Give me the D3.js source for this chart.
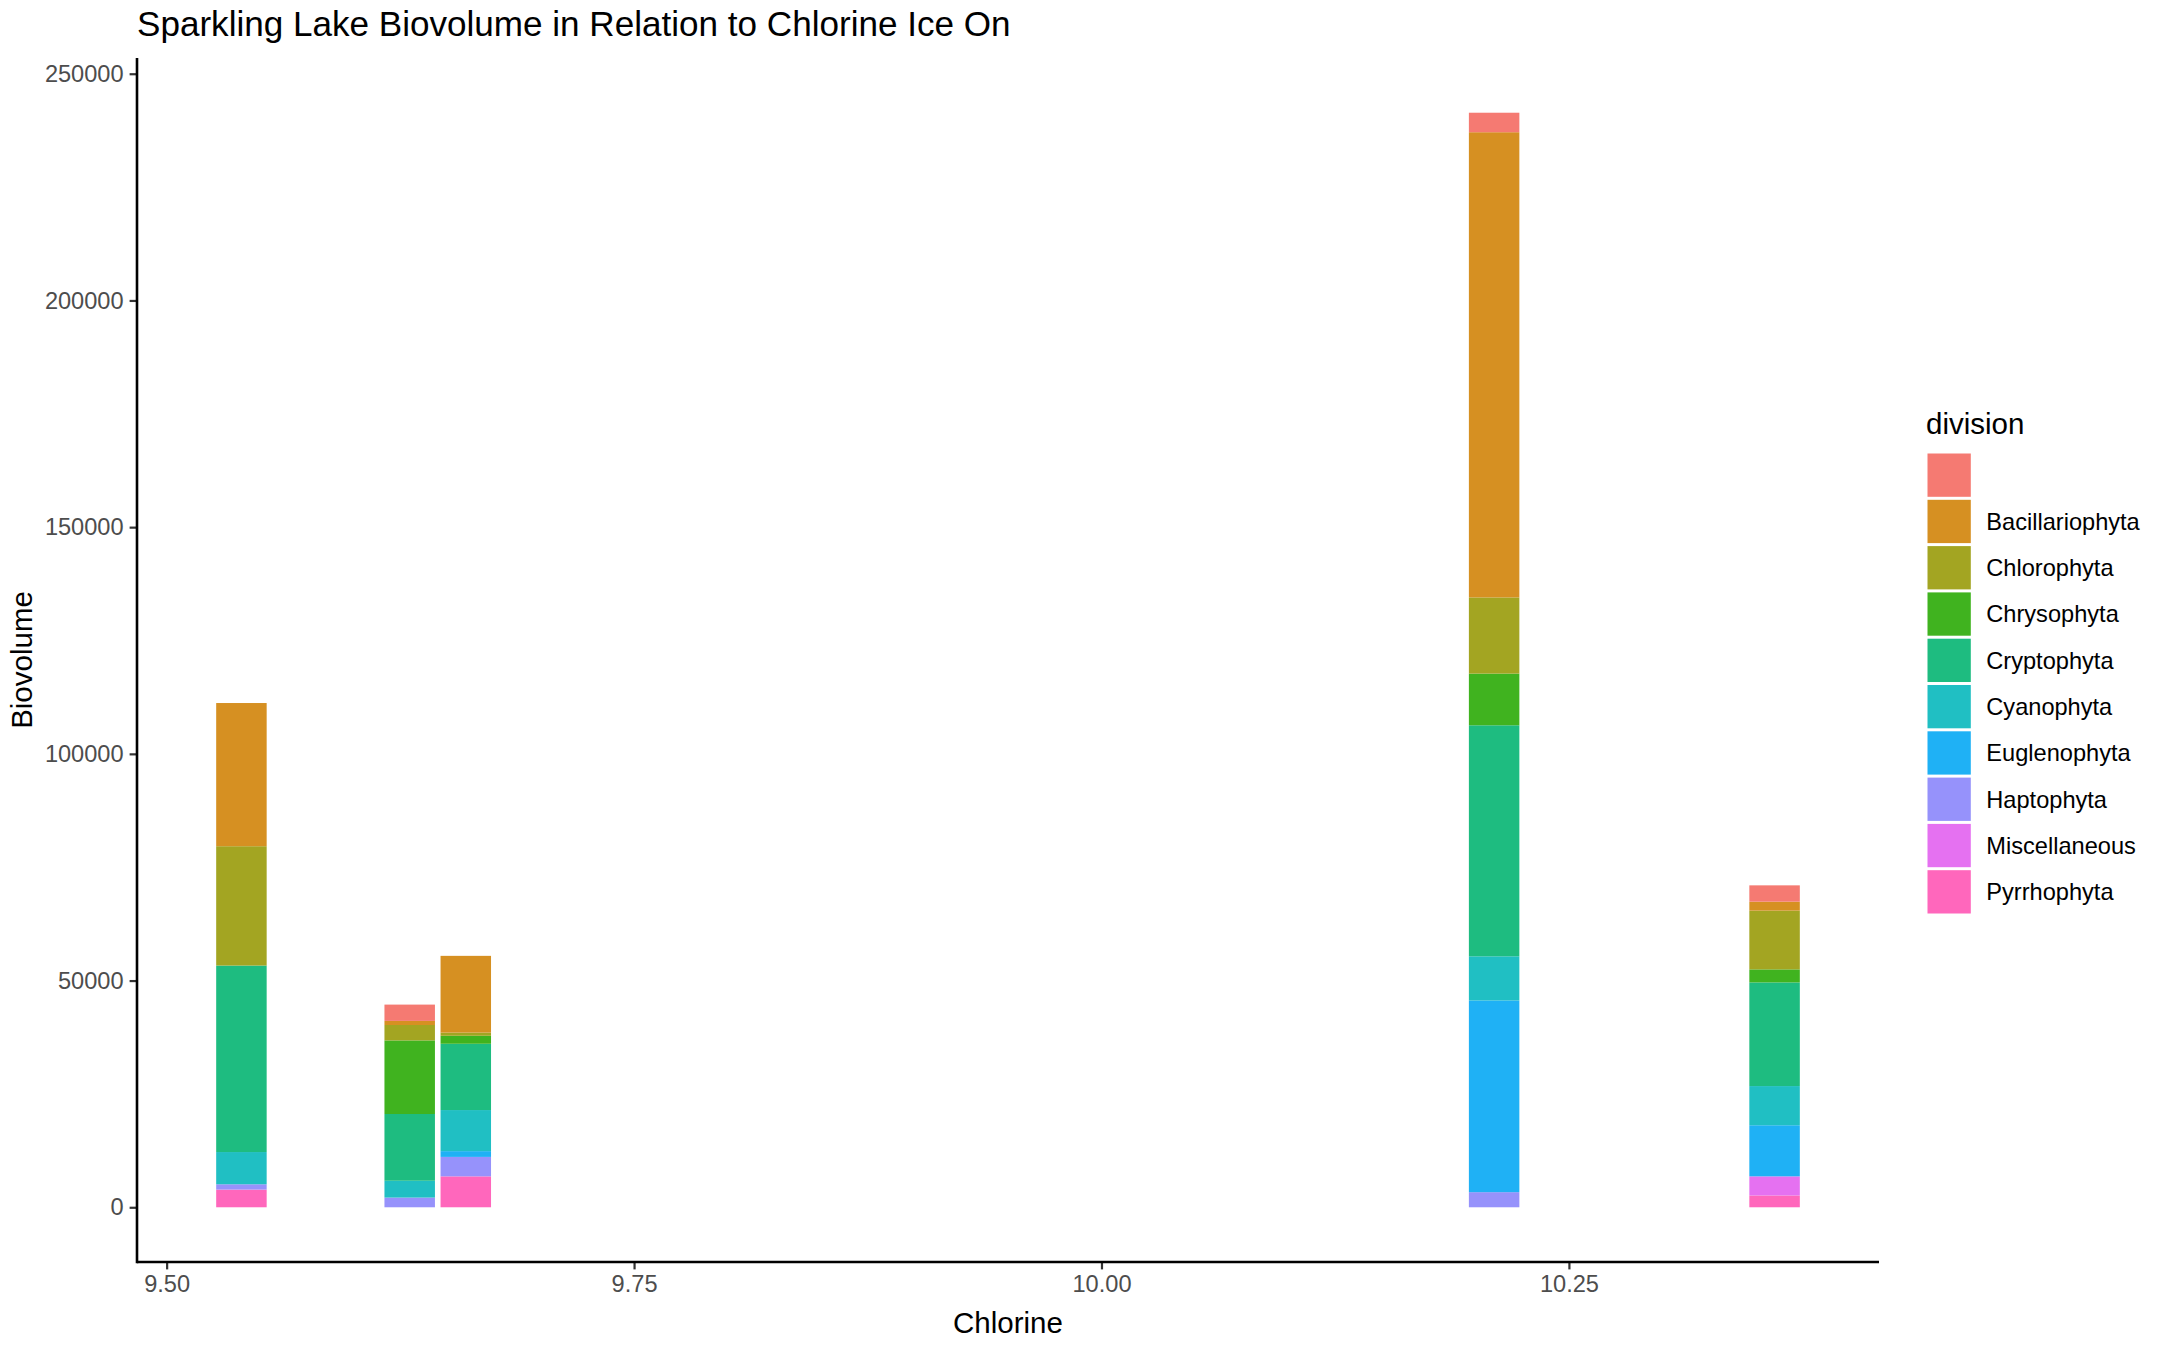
<!DOCTYPE html>
<html>
<head>
<meta charset="utf-8">
<script src="https://cdn.jsdelivr.net/npm/d3@7"></script>
<style>
  body { margin: 0; background: #fff; }
  text { font-family: "Liberation Sans", Arial, Helvetica, sans-serif; }
</style>
</head>
<body>
<div id="chart"></div>
<script>
// chlorine levels (x) and the divisions in legend order
var chlorine = [9.54, 9.63, 9.66, 10.21, 10.36];
var divisions = ["", "Bacillariophyta", "Chlorophyta", "Chrysophyta", "Cryptophyta",
                 "Cyanophyta", "Euglenophyta", "Haptophyta", "Miscellaneous", "Pyrrhophyta"];
var colors = ["#F57A72", "#D69022", "#A3A522", "#40B31F", "#1EBC80",
              "#20BFC3", "#1FB1F5", "#9692FB", "#E571F1", "#FF67BC"];

// biovolume per division, one value per chlorine level
var blank           = [0,     3600,  0,     4300,   3600];
var bacillariophyta = [31580, 900,   16930, 102600, 1980];
var chlorophyta     = [26320, 3400,  700,   16800,  12950];
var chrysophyta     = [0,     16230, 1760,  11400,  2880];
var cryptophyta     = [41130, 14720, 14620, 50950,  22860];
var cyanophyta      = [7110,  3710,  9060,  9730,   8640];
var euglenophyta    = [0,     0,     1270,  42290,  11270];
var haptophyta      = [1170,  2140,  4290,  3330,   0];
var miscellaneous   = [0,     0,     0,     0,      4220];
var pyrrhophyta     = [3900,  0,     6820,  0,      2600];

var xTicks = [9.50, 9.75, 10.00, 10.25];
var yTicks = [0, 50000, 100000, 150000, 200000, 250000];

var series = [blank, bacillariophyta, chlorophyta, chrysophyta, cryptophyta,
              cyanophyta, euglenophyta, haptophyta, miscellaneous, pyrrhophyta];

// build rows for d3.stack
var rows = chlorine.map(function(c, i) {
    var row = {chlorine: c};
    divisions.forEach(function(d, j) { row[d] = series[j][i]; });
    return row;
});

// chart set ups
var svgWidth = 2164;
var svgHeight = 1346;
var margin = {top: 58, right: 285, bottom: 84, left: 137};
var chartWidth = svgWidth - margin.left - margin.right;
var chartHeight = svgHeight - margin.top - margin.bottom;

var svg = d3.select("#chart")
    .append("svg")
    .attr("width", svgWidth)
    .attr("height", svgHeight);

var chartGroup = svg.append("g")
    .attr("transform", `translate(${margin.left},${margin.top})`);

// stack: first legend level ends up on top, like ggplot
var stackKeys = divisions.slice().reverse();
var colorScale = d3.scaleOrdinal().domain(divisions).range(colors);
var stacked = d3.stack().keys(stackKeys)(rows);

// bar width = 0.9 * resolution of x
var res = d3.min(d3.pairs(chlorine), p => p[1] - p[0]);
var barWidth = 0.9 * res;

var xMin = d3.min(chlorine) - barWidth / 2;
var xMax = d3.max(chlorine) + barWidth / 2;
var xPad = (xMax - xMin) * 0.05;
var xScale = d3.scaleLinear()
    .domain([xMin - xPad, xMax + xPad])
    .range([0, chartWidth]);

var yTop = d3.max(stacked[stacked.length - 1], d => d[1]);
var yPad = yTop * 0.05;
var yScale = d3.scaleLinear()
    .domain([-yPad, yTop + yPad])
    .range([chartHeight, 0]);

// bars
chartGroup.selectAll("g.layer")
    .data(stacked)
    .enter()
    .append("g")
    .attr("class", "layer")
    .attr("fill", d => colorScale(d.key))
    .selectAll("rect")
    .data(d => d.filter(s => s[1] - s[0] > 0))
    .enter()
    .append("rect")
    .attr("x", d => xScale(d.data.chlorine - barWidth / 2))
    .attr("width", d => xScale(d.data.chlorine + barWidth / 2) - xScale(d.data.chlorine - barWidth / 2))
    .attr("y", d => yScale(d[1]))
    .attr("height", d => yScale(d[0]) - yScale(d[1]));

// axes
var bottomAxis = d3.axisBottom(xScale)
    .tickValues(xTicks)
    .tickFormat(d3.format(".2f"))
    .tickSize(7.4)
    .tickPadding(6);
var leftAxis = d3.axisLeft(yScale)
    .tickValues(yTicks)
    .tickFormat(d3.format("d"))
    .tickSize(7.4)
    .tickPadding(6);

var xAxis = chartGroup.append("g")
    .attr("transform", `translate(0,${chartHeight})`)
    .call(bottomAxis);
var yAxis = chartGroup.append("g")
    .call(leftAxis);

[xAxis, yAxis].forEach(function(ax) {
    ax.select(".domain").remove();
    ax.selectAll(".tick line").attr("stroke", "#333333").attr("stroke-width", 2.2);
    ax.selectAll(".tick text")
      .attr("fill", "#4D4D4D")
      .style("font-size", "23.6px")
      .style("font-family", "'Liberation Sans', Arial, sans-serif");
});

// axis lines
chartGroup.append("line")
    .attr("x1", 0).attr("x2", chartWidth)
    .attr("y1", chartHeight).attr("y2", chartHeight)
    .attr("stroke", "black").attr("stroke-width", 2.6);
chartGroup.append("line")
    .attr("x1", 0).attr("x2", 0)
    .attr("y1", 0).attr("y2", chartHeight + 1.3)
    .attr("stroke", "black").attr("stroke-width", 2.6);

// title and axis titles
svg.append("text")
    .attr("x", margin.left)
    .attr("y", 36)
    .style("font-size", "35.1px")
    .attr("fill", "black")
    .text("Sparkling Lake Biovolume in Relation to Chlorine Ice On");

svg.append("text")
    .attr("x", margin.left + chartWidth / 2)
    .attr("y", 1333)
    .attr("text-anchor", "middle")
    .style("font-size", "29.5px")
    .text("Chlorine");

svg.append("text")
    .attr("transform", `translate(32,${margin.top + chartHeight / 2}) rotate(-90)`)
    .attr("text-anchor", "middle")
    .style("font-size", "29.5px")
    .text("Biovolume");

// legend
var keySize = 46.3;
var legend = svg.append("g")
    .attr("transform", "translate(1926,452)");

legend.append("text")
    .attr("x", 0)
    .attr("y", -18)
    .style("font-size", "29.5px")
    .text("division");

var items = legend.selectAll("g.item")
    .data(divisions)
    .enter()
    .append("g")
    .attr("class", "item")
    .attr("transform", (d, i) => `translate(0,${i * keySize})`);

items.append("rect")
    .attr("x", 1.5)
    .attr("y", 1.5)
    .attr("width", keySize - 3)
    .attr("height", keySize - 3)
    .attr("fill", d => colorScale(d));

items.append("text")
    .attr("x", keySize + 14)
    .attr("y", keySize / 2)
    .attr("dy", "0.35em")
    .style("font-size", "23.6px")
    .text(d => d);
</script>
</body>
</html>
